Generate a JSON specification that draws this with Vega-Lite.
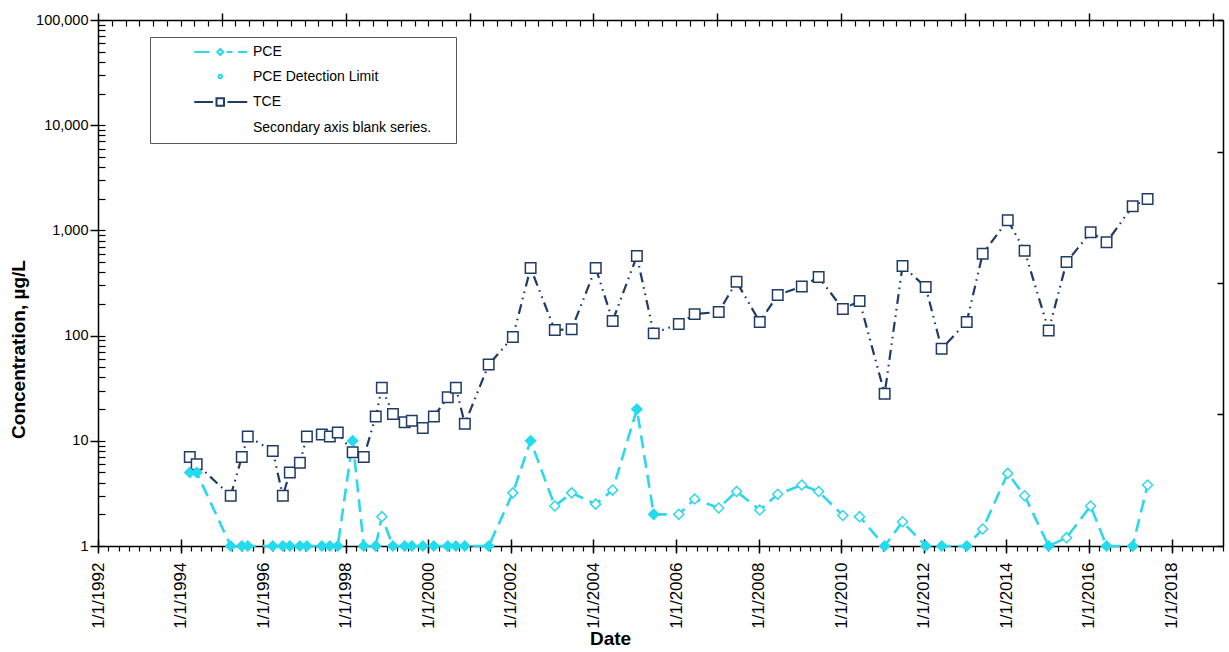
{
  "$schema": "https://vega.github.io/schema/vega-lite/v6.json",
  "autosize": "none",
  "width": 1125,
  "height": 526,
  "padding": {"left": 98, "top": 20, "right": 6, "bottom": 106},
  "background": "white",
  "config": {
    "view": {"stroke": null},
    "font": "Liberation Sans",
    "axis": {"grid": false, "domainColor": "black", "tickColor": "black", "domainWidth": 1.5, "tickWidth": 1.5, "labelColor": "black", "titleColor": "black", "labelFont": "Liberation Sans", "titleFont": "Liberation Sans"}
  },
  "data": {
    "values": [
      {"date": "1994-03-23", "TCE": 7, "PCE": 5, "PCE Detection Limit": 5},
      {"date": "1994-05-23", "TCE": 6, "PCE": 5, "PCE Detection Limit": 5},
      {"date": "1995-03-20", "TCE": 3, "PCE": 1, "PCE Detection Limit": 1},
      {"date": "1995-06-26", "TCE": 7, "PCE": 1, "PCE Detection Limit": 1},
      {"date": "1995-08-18", "TCE": 11, "PCE": 1, "PCE Detection Limit": 1},
      {"date": "1996-03-26", "TCE": 8, "PCE": 1, "PCE Detection Limit": 1},
      {"date": "1996-06-23", "TCE": 3, "PCE": 1, "PCE Detection Limit": 1},
      {"date": "1996-08-24", "TCE": 5, "PCE": 1, "PCE Detection Limit": 1},
      {"date": "1996-11-21", "TCE": 6.2, "PCE": 1, "PCE Detection Limit": 1},
      {"date": "1997-01-22", "TCE": 11, "PCE": 1, "PCE Detection Limit": 1},
      {"date": "1997-06-03", "TCE": 11.5, "PCE": 1, "PCE Detection Limit": 1},
      {"date": "1997-08-13", "TCE": 11, "PCE": 1, "PCE Detection Limit": 1},
      {"date": "1997-10-22", "TCE": 12, "PCE": 1, "PCE Detection Limit": 1},
      {"date": "1998-03-03", "TCE": 7.8, "PCE": 10, "PCE Detection Limit": 10},
      {"date": "1998-06-09", "TCE": 7, "PCE": 1, "PCE Detection Limit": 1},
      {"date": "1998-09-23", "TCE": 17, "PCE": 1, "PCE Detection Limit": 1},
      {"date": "1998-11-16", "TCE": 32, "PCE": 1.9},
      {"date": "1999-02-22", "TCE": 18, "PCE": 1, "PCE Detection Limit": 1},
      {"date": "1999-06-06", "TCE": 15, "PCE": 1, "PCE Detection Limit": 1},
      {"date": "1999-08-08", "TCE": 15.5, "PCE": 1, "PCE Detection Limit": 1},
      {"date": "1999-11-13", "TCE": 13.2, "PCE": 1, "PCE Detection Limit": 1},
      {"date": "2000-02-19", "TCE": 17, "PCE": 1, "PCE Detection Limit": 1},
      {"date": "2000-06-21", "TCE": 26, "PCE": 1, "PCE Detection Limit": 1},
      {"date": "2000-09-01", "TCE": 32, "PCE": 1, "PCE Detection Limit": 1},
      {"date": "2000-11-19", "TCE": 14.5, "PCE": 1, "PCE Detection Limit": 1},
      {"date": "2001-06-18", "TCE": 53, "PCE": 1, "PCE Detection Limit": 1},
      {"date": "2002-01-18", "TCE": 97, "PCE": 3.2},
      {"date": "2002-06-24", "TCE": 440, "PCE": 10, "PCE Detection Limit": 10},
      {"date": "2003-01-24", "TCE": 113, "PCE": 2.4},
      {"date": "2003-06-22", "TCE": 115, "PCE": 3.2},
      {"date": "2004-01-21", "TCE": 440, "PCE": 2.5},
      {"date": "2004-06-19", "TCE": 138, "PCE": 3.4},
      {"date": "2005-01-19", "TCE": 570, "PCE": 20, "PCE Detection Limit": 20},
      {"date": "2005-06-17", "TCE": 105, "PCE": 2, "PCE Detection Limit": 2},
      {"date": "2006-01-25", "TCE": 129, "PCE": 2.0},
      {"date": "2006-06-14", "TCE": 160, "PCE": 2.8},
      {"date": "2007-01-13", "TCE": 168, "PCE": 2.3},
      {"date": "2007-06-20", "TCE": 325, "PCE": 3.3},
      {"date": "2008-01-11", "TCE": 135, "PCE": 2.2},
      {"date": "2008-06-18", "TCE": 243, "PCE": 3.1},
      {"date": "2009-01-17", "TCE": 293, "PCE": 3.8},
      {"date": "2009-06-15", "TCE": 360, "PCE": 3.3},
      {"date": "2010-01-15", "TCE": 179, "PCE": 1.95},
      {"date": "2010-06-12", "TCE": 213, "PCE": 1.9},
      {"date": "2011-01-20", "TCE": 28, "PCE": 1, "PCE Detection Limit": 1},
      {"date": "2011-06-27", "TCE": 459, "PCE": 1.7},
      {"date": "2012-01-18", "TCE": 290, "PCE": 1, "PCE Detection Limit": 1},
      {"date": "2012-06-07", "TCE": 75, "PCE": 1, "PCE Detection Limit": 1},
      {"date": "2013-01-15", "TCE": 135, "PCE": 1, "PCE Detection Limit": 1},
      {"date": "2013-06-05", "TCE": 600, "PCE": 1.45},
      {"date": "2014-01-13", "TCE": 1250, "PCE": 4.9},
      {"date": "2014-06-11", "TCE": 640, "PCE": 3.0},
      {"date": "2015-01-10", "TCE": 112, "PCE": 1, "PCE Detection Limit": 1},
      {"date": "2015-06-17", "TCE": 500, "PCE": 1.2},
      {"date": "2016-01-16", "TCE": 960, "PCE": 2.4},
      {"date": "2016-06-05", "TCE": 770, "PCE": 1, "PCE Detection Limit": 1},
      {"date": "2017-01-22", "TCE": 1700, "PCE": 1, "PCE Detection Limit": 1},
      {"date": "2017-06-03", "TCE": 1990, "PCE": 3.8}
    ]
  },
  "transform": [
    {"fold": ["TCE", "PCE", "PCE Detection Limit"], "as": ["series", "value"]},
    {"filter": "isValid(datum.value)"}
  ],
  "resolve": {"axis": {"x": "independent", "y": "independent"}},
  "layer": [
    {
      "transform": [{"filter": "datum.series === 'TCE'"}],
      "mark": {"type": "line", "color": "#1F3B66", "strokeWidth": 2.2, "strokeDash": [10, 5, 1.6, 5, 1.6, 5]},
      "encoding": {
        "x": {"field": "date", "type": "temporal",
          "scale": {"domain": [{"year": 1992, "month": 1, "date": 1}, {"year": 2019, "month": 4, "date": 1}]},
          "axis": {"orient": "bottom", "title": "Date", "tickCount": {"interval": "year", "step": 2}, "format": "%-m/%-d/%Y", "labelAngle": 270, "labelFontSize": 17, "labelPadding": 9, "tickSize": 7, "labelFlush": false, "labelOverlap": false, "labelBound": false, "titleFontSize": 19, "titleFontWeight": "bold", "titleX": 512, "titleY": 98, "titleAlign": "center", "titleBaseline": "alphabetic", "titleAnchor": null}},
        "y": {"field": "value", "type": "quantitative",
          "scale": {"type": "log", "domain": [1, 100000], "nice": false},
          "axis": {"orient": "left", "title": "Concentration, µg/L", "values": [1, 10, 100, 1000, 10000, 100000], "format": ",", "labelFontSize": 14.5, "labelPadding": 2, "tickSize": 8, "titleFontSize": 19, "titleFontWeight": "bold", "titleAngle": 270, "titleX": -74, "titleY": 329, "titleAlign": "center", "titleBaseline": "alphabetic"}}
      }
    },
    {
      "transform": [{"filter": "datum.series === 'PCE'"}],
      "mark": {"type": "line", "color": "#2ED8EA", "strokeWidth": 2.6, "strokeDash": [13, 7]},
      "encoding": {
        "x": {"field": "date", "type": "temporal",
          "scale": {"domain": [{"year": 1992, "month": 1, "date": 1}, {"year": 2019, "month": 4, "date": 1}]},
          "axis": {"orient": "bottom", "title": null, "tickCount": {"interval": "year", "step": 2}, "labels": false, "domain": false, "tickSize": -7}},
        "y": {"field": "value", "type": "quantitative",
          "scale": {"type": "log", "domain": [1, 100000], "nice": false},
          "axis": {"orient": "left", "title": null, "values": [1, 2, 3, 4, 5, 6, 7, 8, 9, 10, 20, 30, 40, 50, 60, 70, 80, 90, 100, 200, 300, 400, 500, 600, 700, 800, 900, 1000, 2000, 3000, 4000, 5000, 6000, 7000, 8000, 9000, 10000, 20000, 30000, 40000, 50000, 60000, 70000, 80000, 90000, 100000], "labels": false, "domain": false, "tickSize": -7, "tickWidth": 1.2}}
      }
    },
    {
      "transform": [{"filter": "datum.series !== 'PCE Detection Limit'"}],
      "mark": {"type": "point", "strokeWidth": 1.5, "opacity": 1},
      "encoding": {
        "x": {"field": "date", "type": "temporal",
          "scale": {"domain": [{"year": 1992, "month": 1, "date": 1}, {"year": 2019, "month": 4, "date": 1}]},
          "axis": {"orient": "bottom", "title": null, "tickCount": {"interval": "month", "step": 3}, "labels": false, "domain": false, "tickSize": 5, "tickWidth": 1.2}},
        "y": {"field": "value", "type": "quantitative",
          "scale": {"type": "log", "domain": [1, 100000], "nice": false},
          "axis": {"orient": "right", "title": null, "values": [1, 17.7828, 316.228, 5623.41, 100000], "labels": false, "tickSize": -6}},
        "shape": {"condition": {"test": "datum.series === 'TCE'", "value": "square"}, "value": "diamond"},
        "size": {"condition": {"test": "datum.series === 'TCE'", "value": 110}, "value": 100},
        "stroke": {"condition": {"test": "datum.series === 'TCE'", "value": "#1F3B66"}, "value": "#2ED8EA"},
        "fill": {"value": "white"}
      }
    },
    {
      "transform": [{"filter": "datum.series === 'PCE Detection Limit'"}],
      "mark": {"type": "point", "shape": "diamond", "filled": true, "color": "#22DCEE", "size": 115, "opacity": 1},
      "encoding": {
        "x": {"field": "date", "type": "temporal",
          "scale": {"domain": [{"year": 1992, "month": 1, "date": 1}, {"year": 2019, "month": 4, "date": 1}]},
          "axis": {"orient": "top", "title": null, "tickCount": {"interval": "year", "step": 3}, "labels": false, "tickSize": 7}},
        "y": {"field": "value", "type": "quantitative",
          "scale": {"type": "log", "domain": [1, 100000], "nice": false},
          "axis": null}
      }
    },
    {
      "mark": {"type": "point", "filled": false, "opacity": 0},
      "encoding": {
        "x": {"field": "date", "type": "temporal",
          "scale": {"domain": [{"year": 1992, "month": 1, "date": 1}, {"year": 2019, "month": 4, "date": 1}]},
          "axis": {"orient": "top", "title": null, "tickCount": {"interval": "month", "step": 4}, "labels": false, "domain": false, "tickSize": -6, "tickWidth": 1.2}},
        "y": {"field": "value", "type": "quantitative",
          "scale": {"type": "log", "domain": [1, 100000], "nice": false},
          "axis": null},
        "shape": {"field": "series", "type": "nominal",
          "scale": {"domain": ["PCE", "PCE Detection Limit", "TCE", "Secondary axis blank series."],
            "range": ["M5.85,0H8.9M12.3,0H13.5M14.6,0H16.45M10.45,0L11.05,-0.6L11.65,0L11.05,0.6Z", "M10.7,0A0.35,0.35,0,1,1,11.4,0A0.35,0.35,0,1,1,10.7,0Z", "M5.85,0H9.6M12.5,0H16.45M10.3,-0.75H11.8V0.75H10.3Z", "M55.4,0H55.8"]},
          "legend": {"orient": "none", "legendX": 52, "legendY": 17, "title": null, "padding": 8, "strokeColor": "#555555", "fillColor": "white", "symbolSize": 100, "symbolStrokeWidth": 2, "symbolOffset": 0, "labelOffset": 81, "labelFontSize": 14, "labelFont": "Liberation Sans", "labelColor": "black", "rowPadding": 10.5, "symbolOpacity": 1, "labelLimit": 400}},
        "color": {"field": "series", "type": "nominal",
          "scale": {"domain": ["PCE", "PCE Detection Limit", "TCE", "Secondary axis blank series."], "range": ["#2ED8EA", "#22DCEE", "#1F3B66", "transparent"]}}
      }
    }
  ]
}
